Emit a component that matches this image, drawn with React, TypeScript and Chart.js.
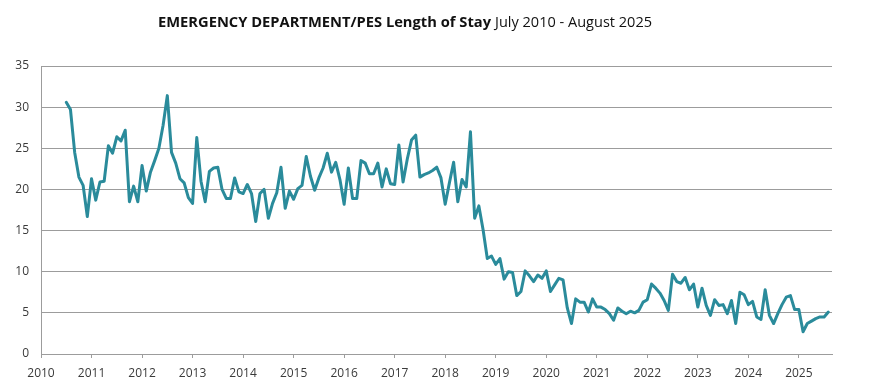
import { useEffect, useRef } from "react";
import { Chart, registerables } from "chart.js";

Chart.register(...registerables);

// ---- Data ----
const START_YEAR = 2010;
const START_MONTH = 7; // July 2010

const losValues: number[] = [
  // 2010 Jul-Dec
  30.6, 29.7, 24.5, 21.5, 20.5, 16.7,
  // 2011
  21.3, 18.7, 20.9, 21.0, 25.3, 24.4, 26.4, 25.9, 27.2, 18.5, 20.4, 18.5,
  // 2012
  22.9, 19.8, 22.1, 23.5, 25.0, 27.8, 31.4, 24.5, 23.2, 21.3, 20.8, 19.0,
  // 2013
  18.3, 26.3, 21.0, 18.5, 22.2, 22.6, 22.7, 20.0, 18.9, 18.9, 21.4, 19.7,
  // 2014
  19.5, 20.6, 19.5, 16.1, 19.5, 20.0, 16.5, 18.3, 19.6, 22.7, 17.7, 19.8,
  // 2015
  18.8, 20.1, 20.5, 24.0, 21.6, 19.9, 21.4, 22.6, 24.4, 22.1, 23.3, 21.2,
  // 2016
  18.2, 22.6, 18.9, 18.9, 23.5, 23.2, 21.9, 21.9, 23.2, 20.3, 22.5, 20.7,
  // 2017
  20.6, 25.4, 20.9, 23.7, 26.0, 26.6, 21.5, 21.8, 22.0, 22.3, 22.7, 21.4,
  // 2018
  18.2, 20.8, 23.3, 18.5, 21.2, 20.3, 27.0, 16.5, 18.0, 15.1, 11.6, 11.9,
  // 2019
  10.9, 11.6, 9.1, 10.0, 9.9, 7.1, 7.6, 10.1, 9.5, 8.8, 9.6, 9.2,
  // 2020
  10.1, 7.6, 8.4, 9.2, 9.0, 5.6, 3.7, 6.7, 6.3, 6.3, 5.1, 6.7,
  // 2021
  5.7, 5.7, 5.4, 4.9, 4.1, 5.6, 5.2, 4.9, 5.2, 5.0, 5.3, 6.3,
  // 2022
  6.6, 8.5, 8.0, 7.4, 6.5, 5.3, 9.7, 8.8, 8.6, 9.3, 7.8, 8.5,
  // 2023
  5.7, 8.0, 5.9, 4.7, 6.6, 5.9, 6.0, 4.9, 6.5, 3.7, 7.5, 7.2,
  // 2024
  6.0, 6.4, 4.5, 4.2, 7.8, 4.7, 3.7, 4.9, 6.0, 6.9, 7.1, 5.4,
  // 2025 Jan-Aug
  5.4, 2.7, 3.7, 4.0, 4.3, 4.5, 4.5, 5.1,
];

const monthLabels: string[] = losValues.map((_, i) => {
  const m0 = START_MONTH - 1 + i;
  const y = START_YEAR + Math.floor(m0 / 12);
  const m = (m0 % 12) + 1;
  return `${y}-${String(m).padStart(2, "0")}`;
});

const yearTicks = [2010, 2011, 2012, 2013, 2014, 2015, 2016, 2017, 2018, 2019, 2020, 2021, 2022, 2023, 2024, 2025];
const yTicks = [0, 5, 10, 15, 20, 25, 30, 35];

const titleBold = "EMERGENCY DEPARTMENT/PES Length of Stay";
const titleRest = "July 2010 - August 2025";

// ---- Styles ----
const LINE_COLOR = "#2a8b9b";
const GRID_COLOR = "#9c9c9c";
const TEXT_COLOR = "#3a3a3a";
const FONT_FAMILY = '"Open Sans", "DejaVu Sans", sans-serif';

const titlePlugin = {
  id: "mixedTitle",
  afterDraw(chart: any) {
    const ctx = chart.ctx as CanvasRenderingContext2D;
    ctx.save();
    ctx.fillStyle = "#111111";
    ctx.textBaseline = "middle";
    ctx.textAlign = "left";
    const y = 23;
    ctx.font = `bold 15px ${FONT_FAMILY}`;
    const w1 = ctx.measureText(titleBold).width;
    const s1 = 333 / w1;
    ctx.save();
    ctx.translate(158, y);
    ctx.scale(s1, 1);
    ctx.fillText(titleBold, 0, 0);
    ctx.restore();
    ctx.font = `15px ${FONT_FAMILY}`;
    const w2 = ctx.measureText(titleRest).width;
    const s2 = 157 / w2;
    ctx.save();
    ctx.translate(495, y);
    ctx.scale(s2, 1);
    ctx.fillText(titleRest, 0, 0);
    ctx.restore();
    ctx.restore();
  },
};

export default function App() {
  const canvasRef = useRef<HTMLCanvasElement | null>(null);

  useEffect(() => {
    if (!canvasRef.current) return;
    const points = monthLabels.map((lbl, i) => {
      const [yy, mm] = lbl.split("-").map(Number);
      return { x: yy + (mm - 1) / 12, y: losValues[i] };
    });

    const chart = new Chart(canvasRef.current, {
      type: "line",
      data: {
        datasets: [
          {
            label: "Length of Stay",
            data: points,
            borderColor: LINE_COLOR,
            backgroundColor: LINE_COLOR,
            borderWidth: 3,
            pointRadius: 0,
            tension: 0,
            fill: false,
            borderJoinStyle: "round",
            borderCapStyle: "round",
          },
        ],
      },
      options: {
        responsive: false,
        animation: false,
        layout: { padding: { top: 66, right: 42, left: 0, bottom: 0 } },
        plugins: {
          legend: { display: false },
          tooltip: { enabled: false },
          title: { display: false },
        },
        scales: {
          x: {
            type: "linear",
            min: 2010,
            max: 2025.656,
            afterBuildTicks: (s: any) => {
              s.ticks = yearTicks.map((v) => ({ value: v }));
            },
            afterFit: (s: any) => {
              s.height = 28;
            },
            ticks: {
              callback: (v: any) => String(v),
              font: { family: FONT_FAMILY, size: 12 },
              color: TEXT_COLOR,
              padding: 8,
              maxRotation: 0,
              autoSkip: false,
            },
            grid: {
              drawOnChartArea: false,
              drawTicks: true,
              tickLength: 4,
              color: GRID_COLOR,
            },
            border: { display: true, color: GRID_COLOR, width: 1 },
          },
          y: {
            min: 0,
            max: 35,
            afterBuildTicks: (s: any) => {
              s.ticks = yTicks.map((v) => ({ value: v }));
            },
            afterFit: (s: any) => {
              s.width = 41;
            },
            ticks: {
              font: { family: FONT_FAMILY, size: 12 },
              color: TEXT_COLOR,
              padding: 12,
            },
            grid: { drawTicks: false, color: GRID_COLOR, lineWidth: 1 },
            border: { display: true, color: GRID_COLOR, width: 1 },
          },
        },
      },
      plugins: [titlePlugin],
    });
    return () => chart.destroy();
  }, []);

  return (
    <div style={{ position: "absolute", left: 0, top: 0, width: 874, height: 382, background: "#ffffff" }}>
      <canvas ref={canvasRef} width={874} height={382} style={{ display: "block", width: 874, height: 382 }} />
    </div>
  );
}
